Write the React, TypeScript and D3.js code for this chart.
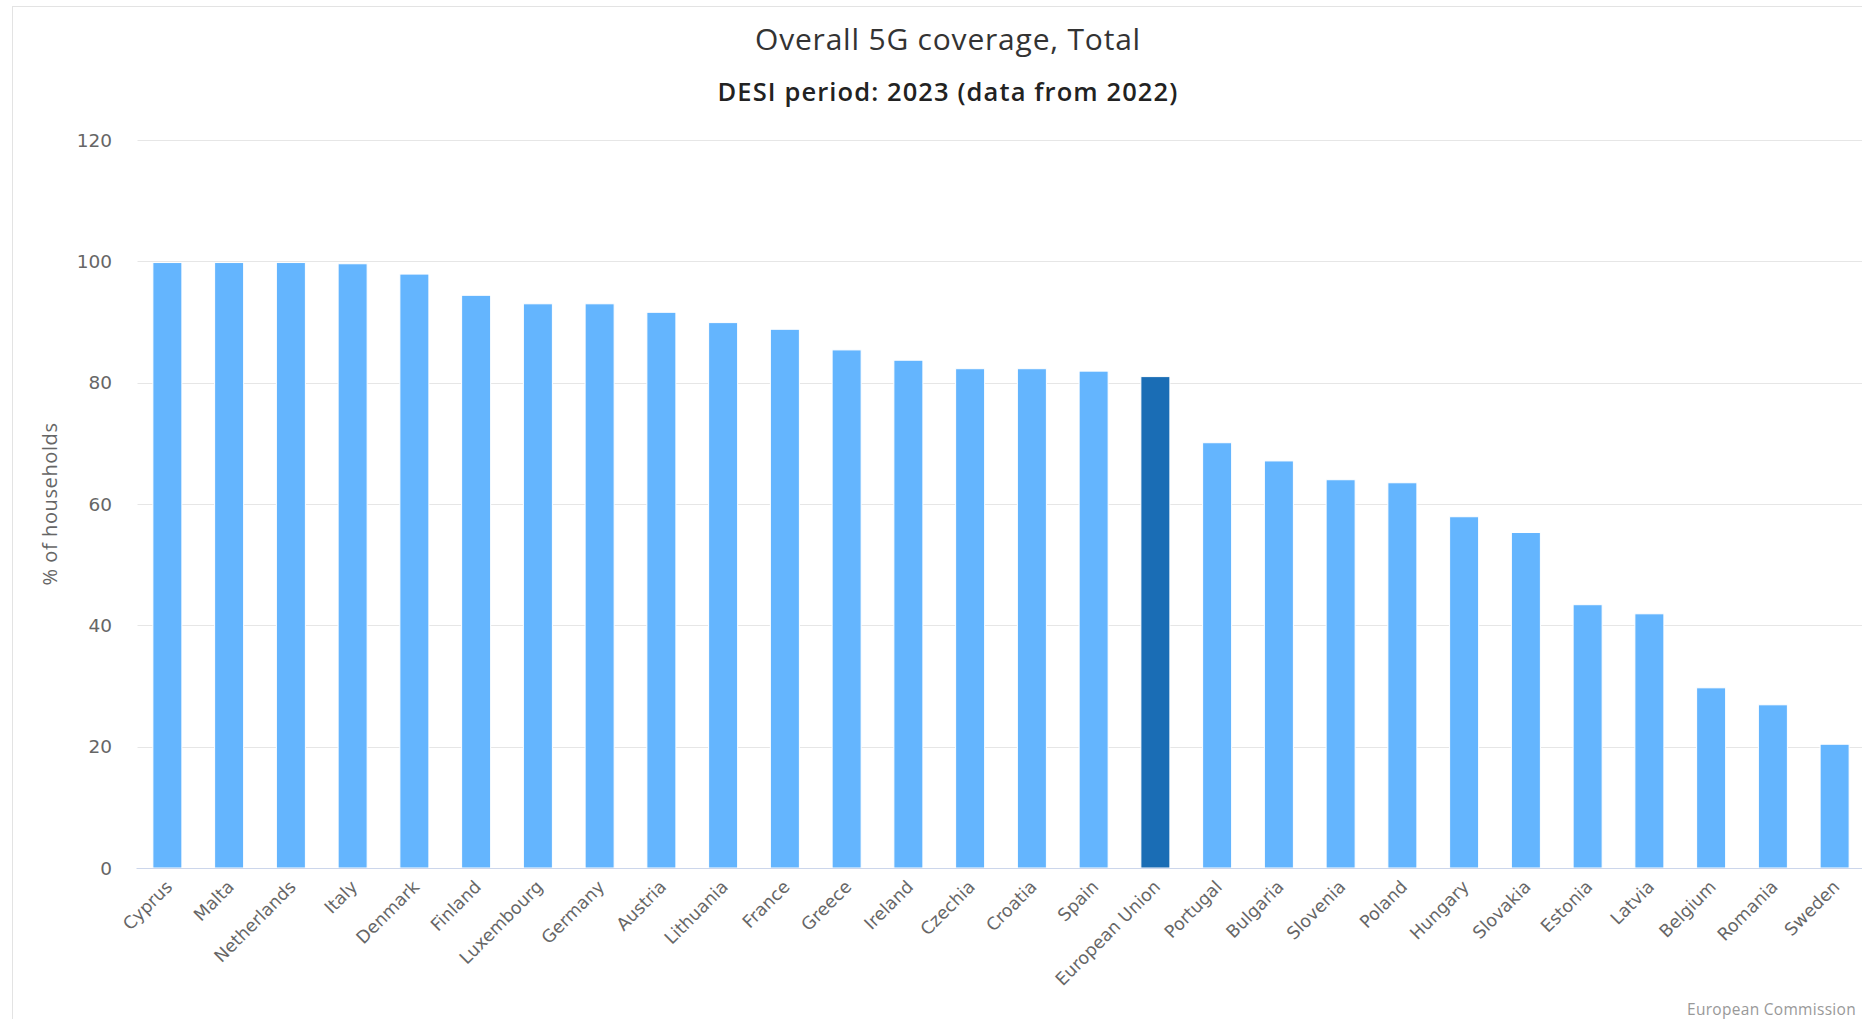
import React from "react";
import * as d3 from "d3";

// values (% of households)
const countries = [
  "Cyprus", "Malta", "Netherlands", "Italy", "Denmark", "Finland", "Luxembourg",
  "Germany", "Austria", "Lithuania", "France", "Greece", "Ireland", "Czechia",
  "Croatia", "Spain", "European Union", "Portugal", "Bulgaria", "Slovenia",
  "Poland", "Hungary", "Slovakia", "Estonia", "Latvia", "Belgium", "Romania", "Sweden",
];
const coverage = [
  99.8, 99.8, 99.8, 99.6, 97.9, 94.4, 93.0,
  93.0, 91.6, 89.9, 88.8, 85.4, 83.7, 82.3,
  82.3, 81.9, 81.0, 70.1, 67.1, 64.0,
  63.5, 57.9, 55.3, 43.4, 41.9, 29.7, 26.9, 20.4,
];
const yTicks = [0, 20, 40, 60, 80, 100, 120];
const highlight = "European Union";

const W = 1862;
const H = 1019;
const plot = { left: 136.5, right: 1865.5, top: 140, bottom: 868 };

const App = () => {
  const x = d3
    .scaleBand<string>()
    .domain(countries)
    .range([plot.left, plot.right])
    .paddingInner(0.53)
    .paddingOuter(0.265);
  const y = d3.scaleLinear().domain([0, 120]).range([plot.bottom, plot.top]);

  const tickFont = "'DejaVu Sans', Verdana, sans-serif";
  const textFont = "'Open Sans', 'Noto Sans', sans-serif";

  return (
    <div
      style={{
        position: "absolute",
        left: 0,
        top: 0,
        width: W,
        height: H,
        overflow: "hidden",
        background: "#fff",
      }}
    >
      <svg width={W} height={H} style={{ display: "block" }}>
        {/* outer frame */}
        <rect x={12.5} y={6.5} width={W + 20} height={H + 20} fill="#fff" stroke="#e3e3e3" />

        {/* titles */}
        <text
          x={948}
          y={50}
          textAnchor="middle"
          fontFamily={textFont}
          fontSize={30}
          letterSpacing={0.8}
          fill="#333"
        >
          Overall 5G coverage, Total
        </text>
        <text
          x={948}
          y={101}
          textAnchor="middle"
          fontFamily={textFont}
          fontSize={25.5}
          fontWeight={600}
          letterSpacing={1.1}
          fill="#222"
        >
          DESI period: 2023 (data from 2022)
        </text>

        {/* grid + y ticks */}
        {yTicks.map((t) => (
          <g key={t}>
            {t > 0 && (
              <line
                x1={plot.left + 1}
                x2={W}
                y1={Math.round(y(t)) + 0.5}
                y2={Math.round(y(t)) + 0.5}
                stroke="#e6e6e6"
              />
            )}
            <text
              x={112}
              y={y(t)}
              dy="0.36em"
              textAnchor="end"
              fontFamily={tickFont}
              fontSize={18.5}
              fill="#666"
            >
              {t}
            </text>
          </g>
        ))}

        <text
          transform={`translate(57,${(plot.top + plot.bottom) / 2}) rotate(-90)`}
          textAnchor="middle"
          fontFamily={textFont}
          fontSize={20}
          letterSpacing={0.6}
          fill="#666"
        >
          % of households
        </text>

        {/* bars */}
        {countries.map((c, i) => (
          <rect
            key={c}
            x={x(c)}
            y={y(coverage[i])}
            width={x.bandwidth()}
            height={y(0) - y(coverage[i])}
            fill={c === highlight ? "#1a6db5" : "#64b5fe"}
            stroke="#fff"
            strokeWidth={1}
          />
        ))}

        {/* x axis line */}
        <line
          x1={plot.left}
          x2={W}
          y1={plot.bottom + 0.5}
          y2={plot.bottom + 0.5}
          stroke="#ccd6eb"
        />

        {/* x labels */}
        {countries.map((c) => {
          const cx = (x(c) ?? 0) + x.bandwidth() / 2 + 6;
          const cy = plot.bottom + 20;
          return (
            <text
              key={c}
              transform={`translate(${cx},${cy}) rotate(-45)`}
              textAnchor="end"
              fontFamily={tickFont}
              fontSize={17.5}
              fill="#666"
            >
              {c}
            </text>
          );
        })}

        {/* credit */}
        <text
          x={1856}
          y={1015}
          textAnchor="end"
          fontFamily={textFont}
          fontSize={15.5}
          letterSpacing={0.3}
          fill="#999"
        >
          European Commission
        </text>
      </svg>
    </div>
  );
};

export default App;
